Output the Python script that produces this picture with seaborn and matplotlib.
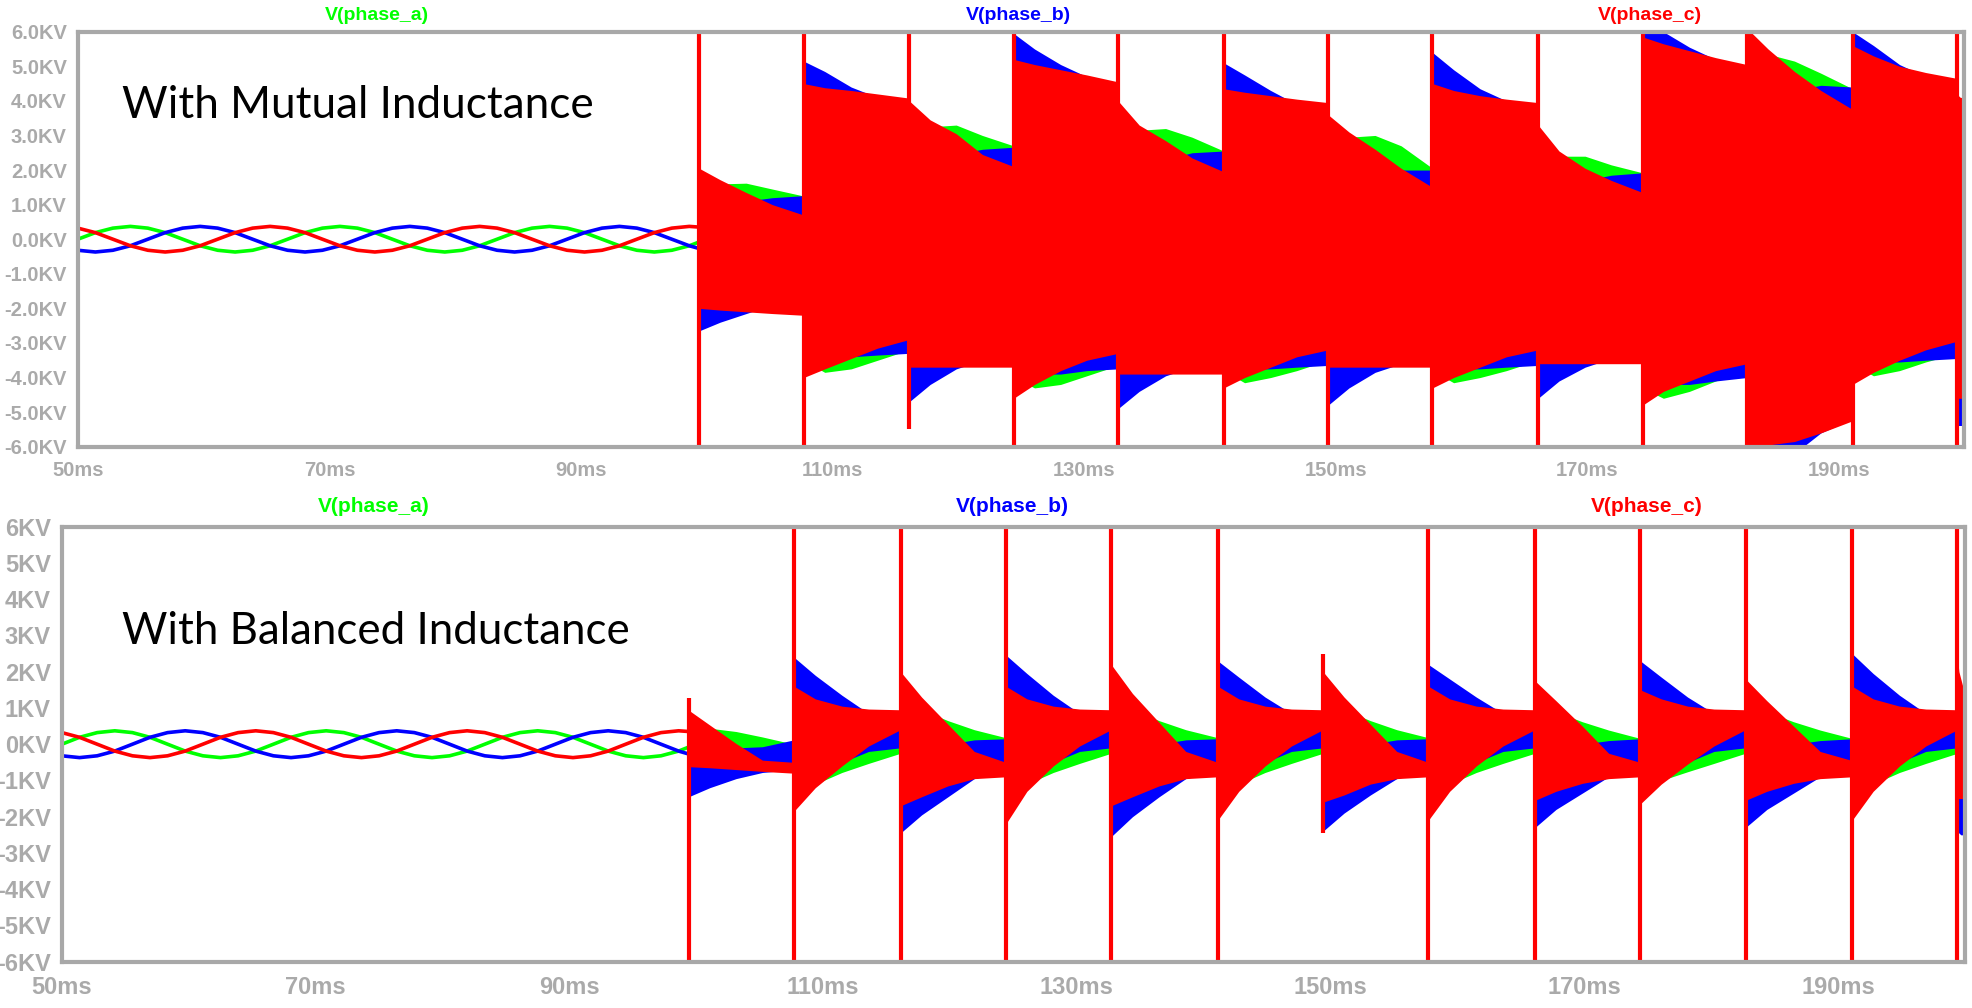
import matplotlib
matplotlib.use("Agg")
import matplotlib.pyplot as plt
import seaborn as sns

# switching instants in ms (the last entry closes the final partial segment)
EVENTS = [99.4, 107.7, 116.1, 124.4, 132.7, 141.1, 149.4, 157.7,
          166.1, 174.4, 182.7, 191.1, 199.4, 200.0]
# sample points inside each switching segment (fraction of segment length)
SEG_FRAC = [0.0, 0.2, 0.45, 0.7, 1.0]

# steady-state 60 Hz phase voltages before the first switching (kV)
PRE_T = [50.0, 51.39, 52.78, 54.17, 55.56, 56.94, 58.33, 59.72, 61.11, 62.5,
         63.89, 65.28, 66.67, 68.06, 69.44, 70.83, 72.22, 73.61, 75.0, 76.39,
         77.78, 79.17, 80.56, 81.94, 83.33, 84.72, 86.11, 87.5, 88.89, 90.28,
         91.67, 93.06, 94.44, 95.83, 97.22, 98.61, 99.4]
PRE_A = [0.0, 0.19, 0.32, 0.37, 0.32, 0.19, 0.0, -0.19, -0.32, -0.37, -0.32, -0.19,
         0.0, 0.19, 0.32, 0.37, 0.32, 0.19, 0.0, -0.19, -0.32, -0.37, -0.32, -0.19,
         0.0, 0.19, 0.32, 0.37, 0.32, 0.19, 0.0, -0.19, -0.32, -0.37, -0.32, -0.19,
         -0.08]
PRE_B = [-0.32, -0.37, -0.32, -0.19, 0.0, 0.19, 0.32, 0.37, 0.32, 0.19, 0.0, -0.19,
         -0.32, -0.37, -0.32, -0.19, 0.0, 0.19, 0.32, 0.37, 0.32, 0.19, 0.0, -0.19,
         -0.32, -0.37, -0.32, -0.19, 0.0, 0.19, 0.32, 0.37, 0.32, 0.19, 0.0, -0.19,
         -0.27]
PRE_C = [0.32, 0.19, 0.0, -0.19, -0.32, -0.37, -0.32, -0.19, 0.0, 0.19, 0.32, 0.37,
         0.32, 0.19, 0.0, -0.19, -0.32, -0.37, -0.32, -0.19, 0.0, 0.19, 0.32, 0.37,
         0.32, 0.19, 0.0, -0.19, -0.32, -0.37, -0.32, -0.19, 0.0, 0.19, 0.32, 0.37,
         0.35]

# ---- top panel (mutual inductance): ringing envelopes per segment, kV ----
TOP_A_HI = [[1.55, 1.6, 1.62, 1.45, 1.25], [3.5, 3.5, 3.5, 3.5, 3.5],
            [3.0, 3.25, 3.3, 3.0, 2.7], [4.0, 4.0, 4.0, 4.0, 4.0],
            [2.9, 3.15, 3.2, 2.95, 2.55], [3.5, 3.5, 3.5, 3.5, 3.5],
            [2.7, 2.95, 3.0, 2.7, 2.05], [3.5, 3.5, 3.5, 3.5, 3.5],
            [2.2, 2.4, 2.4, 2.15, 1.92], [4.5, 4.5, 4.5, 4.5, 4.5],
            [5.0, 5.35, 5.15, 4.8, 4.35], [4.3, 4.3, 4.3, 4.3, 4.3],
            [3.5, 3.5, 3.5, 3.5, 3.5]]
TOP_A_LO = [[-1.5, -1.5, -1.5, -1.5, -1.5], [-3.5, -3.85, -3.75, -3.5, -3.2],
            [-3.3, -3.3, -3.3, -3.3, -3.3], [-4.0, -4.3, -4.2, -3.95, -3.65],
            [-3.5, -3.5, -3.5, -3.5, -3.5], [-3.8, -4.15, -4.0, -3.8, -3.5],
            [-3.3, -3.3, -3.3, -3.3, -3.3], [-3.8, -4.15, -4.0, -3.8, -3.5],
            [-3.2, -3.2, -3.2, -3.2, -3.2], [-4.3, -4.6, -4.4, -4.1, -3.8],
            [-5.0, -5.0, -5.0, -5.0, -5.0], [-3.6, -3.95, -3.8, -3.55, -3.3],
            [-4.0, -4.0, -4.0, -4.0, -4.0]]
TOP_B_HI = [[1.5, 1.2, 1.1, 1.2, 1.26], [5.15, 4.85, 4.4, 4.1, 3.9],
            [2.0, 2.2, 2.45, 2.6, 2.66], [5.95, 5.5, 5.05, 4.7, 4.5],
            [1.9, 2.1, 2.3, 2.5, 2.55], [5.1, 4.75, 4.3, 3.9, 3.7],
            [1.6, 1.75, 1.9, 2.0, 2.0], [5.4, 4.9, 4.35, 4.0, 3.8],
            [1.3, 1.5, 1.7, 1.85, 1.92], [6.3, 6.0, 5.55, 5.2, 5.0],
            [3.8, 4.0, 4.3, 4.45, 4.4], [6.0, 5.6, 5.05, 4.7, 4.5],
            [4.0, 4.0, 4.0, 4.0, 4.0]]
TOP_B_LO = [[-2.65, -2.4, -2.15, -1.9, -1.8], [-3.2, -3.4, -3.4, -3.35, -3.3],
            [-4.7, -4.2, -3.75, -3.5, -3.4], [-3.8, -3.9, -3.9, -3.8, -3.75],
            [-4.9, -4.4, -3.95, -3.7, -3.6], [-3.6, -3.75, -3.75, -3.7, -3.65],
            [-4.8, -4.3, -3.85, -3.6, -3.5], [-3.6, -3.75, -3.75, -3.7, -3.65],
            [-4.6, -4.1, -3.7, -3.45, -3.35], [-4.0, -4.2, -4.2, -4.1, -4.0],
            [-6.5, -6.4, -6.2, -5.6, -5.2], [-3.4, -3.55, -3.55, -3.5, -3.45],
            [-5.4, -5.4, -5.4, -5.4, -5.4]]
TOP_C_HI = [[2.05, 1.72, 1.35, 1.0, 0.7], [4.5, 4.38, 4.3, 4.2, 4.08],
            [4.0, 3.45, 3.05, 2.45, 2.1], [5.2, 5.05, 4.9, 4.75, 4.55],
            [4.0, 3.3, 2.85, 2.35, 1.95], [4.35, 4.25, 4.15, 4.05, 3.95],
            [3.6, 3.1, 2.6, 2.05, 1.5], [4.5, 4.3, 4.15, 4.05, 3.95],
            [3.3, 2.55, 2.05, 1.7, 1.35], [5.85, 5.65, 5.45, 5.25, 5.05],
            [6.1, 5.5, 4.85, 4.3, 3.75], [5.6, 5.3, 5.0, 4.82, 4.65],
            [4.2, 4.15, 4.1, 4.1, 4.1]]
TOP_C_LO = [[-2.0, -2.05, -2.1, -2.15, -2.2], [-4.0, -3.75, -3.45, -3.15, -2.9],
            [-3.7, -3.7, -3.7, -3.7, -3.7], [-4.6, -4.2, -3.8, -3.5, -3.3],
            [-3.9, -3.9, -3.9, -3.9, -3.9], [-4.3, -4.0, -3.7, -3.4, -3.2],
            [-3.7, -3.7, -3.7, -3.7, -3.7], [-4.3, -4.0, -3.7, -3.4, -3.2],
            [-3.6, -3.6, -3.6, -3.6, -3.6], [-4.8, -4.4, -4.1, -3.8, -3.6],
            [-6.2, -5.95, -5.85, -5.6, -5.25], [-4.2, -3.85, -3.5, -3.2, -2.95],
            [-4.6, -4.6, -4.6, -4.6, -4.6]]
TOP_SPIKE_LO = [-6.2, -6.2, -5.5, -6.2, -6.2, -6.2, -6.2, -6.2, -6.2, -6.2, -6.2, -6.2, -6.2]
TOP_SPIKE_HI = [6.2, 6.2, 6.2, 6.2, 6.2, 6.2, 6.2, 6.2, 6.2, 6.2, 6.2, 6.2, 6.2]

# ---- bottom panel (balanced inductance) ----
BOT_A_HI = [[0.3, 0.44, 0.35, 0.2, 0.0], [0.5, 0.6, 0.6, 0.5, 0.35],
            [0.8, 0.95, 0.65, 0.4, 0.18], [0.5, 0.6, 0.6, 0.5, 0.35],
            [0.8, 0.95, 0.65, 0.4, 0.18], [0.5, 0.6, 0.6, 0.5, 0.35],
            [0.8, 0.95, 0.65, 0.4, 0.18], [0.5, 0.6, 0.6, 0.5, 0.35],
            [0.8, 0.9, 0.62, 0.39, 0.16], [0.5, 0.6, 0.6, 0.5, 0.35],
            [0.8, 0.9, 0.62, 0.39, 0.16], [0.5, 0.6, 0.6, 0.5, 0.35],
            [0.3, 0.3, 0.3, 0.3, 0.3]]
BOT_A_LO = [[-0.3, -0.4, -0.4, -0.3, -0.3], [-1.0, -1.1, -0.78, -0.53, -0.25],
            [-0.8, -0.8, -0.6, -0.5, -0.5], [-1.0, -1.1, -0.78, -0.53, -0.25],
            [-0.8, -0.8, -0.6, -0.5, -0.5], [-1.0, -1.1, -0.78, -0.53, -0.25],
            [-0.8, -0.8, -0.6, -0.5, -0.5], [-1.0, -1.1, -0.78, -0.53, -0.25],
            [-0.8, -0.8, -0.6, -0.5, -0.5], [-1.0, -1.0, -0.76, -0.53, -0.25],
            [-0.8, -0.8, -0.6, -0.5, -0.5], [-1.0, -1.1, -0.78, -0.53, -0.25],
            [-0.5, -0.5, -0.5, -0.5, -0.5]]
BOT_B_HI = [[-0.5, -0.3, -0.1, -0.07, 0.12], [2.4, 1.9, 1.35, 0.85, 0.5],
            [-0.6, -0.3, 0.0, 0.12, 0.15], [2.46, 1.95, 1.35, 0.85, 0.5],
            [-0.6, -0.3, 0.0, 0.12, 0.15], [2.3, 1.85, 1.3, 0.85, 0.5],
            [-0.6, -0.3, 0.0, 0.12, 0.15], [2.2, 1.8, 1.3, 0.85, 0.5],
            [-0.5, -0.3, 0.0, 0.1, 0.15], [2.3, 1.85, 1.3, 0.85, 0.5],
            [-0.5, -0.3, 0.0, 0.1, 0.15], [2.5, 1.95, 1.35, 0.85, 0.5],
            [1.0, 1.0, 1.0, 1.0, 1.0]]
BOT_B_LO = [[-1.45, -1.2, -0.95, -0.78, -0.7], [-1.7, -1.05, -0.5, -0.2, -0.1],
            [-2.45, -1.95, -1.45, -0.95, -0.75], [-2.0, -1.1, -0.5, -0.2, -0.1],
            [-2.55, -2.0, -1.45, -0.95, -0.75], [-1.9, -1.1, -0.5, -0.2, -0.1],
            [-2.4, -1.9, -1.4, -0.95, -0.75], [-1.9, -1.1, -0.5, -0.2, -0.1],
            [-2.3, -1.8, -1.35, -0.9, -0.7], [-1.5, -0.95, -0.5, -0.2, -0.1],
            [-2.3, -1.8, -1.35, -0.9, -0.7], [-1.9, -1.1, -0.5, -0.2, -0.1],
            [-2.4, -2.45, -2.5, -2.5, -2.5]]
BOT_C_HI = [[0.94, 0.53, 0.02, -0.44, -0.5], [1.6, 1.25, 1.05, 0.97, 0.95],
            [2.0, 1.3, 0.55, -0.2, -0.5], [1.6, 1.25, 1.05, 0.97, 0.95],
            [2.2, 1.4, 0.6, -0.2, -0.5], [1.6, 1.25, 1.05, 0.97, 0.95],
            [2.0, 1.3, 0.55, -0.2, -0.5], [1.6, 1.25, 1.05, 0.97, 0.95],
            [1.75, 1.2, 0.5, -0.25, -0.5], [1.5, 1.25, 1.05, 0.97, 0.95],
            [1.8, 1.2, 0.5, -0.2, -0.45], [1.6, 1.25, 1.05, 0.97, 0.95],
            [2.4, 2.0, 1.8, 1.6, 1.6]]
BOT_C_LO = [[-0.62, -0.65, -0.7, -0.75, -0.8], [-1.85, -1.2, -0.6, -0.05, 0.4],
            [-1.7, -1.45, -1.15, -0.95, -0.9], [-2.2, -1.3, -0.6, -0.05, 0.4],
            [-1.7, -1.45, -1.15, -0.95, -0.9], [-2.1, -1.3, -0.6, -0.05, 0.4],
            [-1.6, -1.4, -1.1, -0.95, -0.9], [-2.1, -1.3, -0.6, -0.05, 0.4],
            [-1.55, -1.3, -1.08, -0.95, -0.9], [-1.65, -1.1, -0.55, -0.05, 0.4],
            [-1.55, -1.3, -1.08, -0.95, -0.9], [-2.1, -1.3, -0.6, -0.05, 0.4],
            [-1.5, -1.5, -1.5, -1.5, -1.5]]
BOT_SPIKE_LO = [-6.2, -6.2, -6.2, -6.2, -6.2, -6.2, -2.45, -6.2, -6.2, -6.2, -6.2, -6.2, -6.2]
BOT_SPIKE_HI = [1.27, 6.2, 6.2, 6.2, 6.2, 6.2, 2.5, 6.2, 6.2, 6.2, 6.2, 6.2, 6.2]

Y_TICKS = [-6, -5, -4, -3, -2, -1, 0, 1, 2, 3, 4, 5, 6]
X_TICKS = [50, 70, 90, 110, 130, 150, 170, 190]
TRACE_NAMES = ["V(phase_a)", "V(phase_b)", "V(phase_c)"]

GREEN, BLUE, RED = "#00ff00", "#0000ff", "#ff0000"
GRID_GRAY = "#a8a8a8"
LABEL_GRAY = "#aaaaaa"


def seg_times(k):
    t0, t1 = EVENTS[k], EVENTS[k + 1]
    return [t0 + f * (t1 - t0) for f in SEG_FRAC]


def draw_panel(ax, bands, spike_lo, spike_hi):
    for vals, color in zip([PRE_A, PRE_B, PRE_C], [GREEN, BLUE, RED]):
        sns.lineplot(x=PRE_T, y=vals, ax=ax, color=color, lw=2.6,
                     estimator=None, sort=False)
    # ringing bands after each switching event: green, then blue, red on top
    for lo, hi, color in bands:
        for k in range(len(lo)):
            ax.fill_between(seg_times(k), lo[k], hi[k], color=color, lw=0)
    ax.vlines(EVENTS[:-1], spike_lo, spike_hi, color=RED, lw=3.0)

    ax.set_xlim(50, 200)
    ax.set_ylim(-6, 6)
    ax.set_xticks(X_TICKS)
    ax.set_xticklabels([f"{x}ms" for x in X_TICKS])
    ax.set_yticks(Y_TICKS)
    for side in ["left", "right", "top", "bottom"]:
        ax.spines[side].set_visible(True)
        ax.spines[side].set_color(GRID_GRAY)
        ax.spines[side].set_linewidth(3)
    ax.tick_params(axis="both", direction="out", colors=GRID_GRAY,
                   labelcolor=LABEL_GRAY, width=2.4)
    ax.tick_params(axis="y", length=8, pad=0)
    ax.tick_params(axis="x", length=7, pad=3)
    ax.set_xlabel("")
    ax.set_ylabel("")


sns.set_theme(style="white")
plt.rcParams["font.family"] = ["Liberation Sans", "DejaVu Sans"]

fig = plt.figure(figsize=(19.72, 10.08), dpi=100)

# top: with mutual inductance
ax1 = fig.add_axes([77.9 / 1972, 1 - 446.7 / 1008, (1964.5 - 77.9) / 1972, 415 / 1008])
draw_panel(ax1, [(TOP_A_LO, TOP_A_HI, GREEN), (TOP_B_LO, TOP_B_HI, BLUE),
                 (TOP_C_LO, TOP_C_HI, RED)], TOP_SPIKE_LO, TOP_SPIKE_HI)
ax1.set_yticklabels([f"{y:.1f}KV" for y in Y_TICKS])
for lab in ax1.get_xticklabels() + ax1.get_yticklabels():
    lab.set_fontsize(14.5)
    lab.set_fontweight("bold")

# bottom: with balanced inductance
ax2 = fig.add_axes([61.9 / 1972, 1 - 961.7 / 1008, (1965 - 61.9) / 1972, 435 / 1008])
draw_panel(ax2, [(BOT_A_LO, BOT_A_HI, GREEN), (BOT_B_LO, BOT_B_HI, BLUE),
                 (BOT_C_LO, BOT_C_HI, RED)], BOT_SPIKE_LO, BOT_SPIKE_HI)
ax2.set_yticklabels([f"{y}KV" for y in Y_TICKS])
for lab in ax2.get_xticklabels() + ax2.get_yticklabels():
    lab.set_fontsize(17)
    lab.set_fontweight("bold")
    lab.set_family(["Liberation Sans Narrow", "Liberation Sans"])

# trace names above each pane
for name, color, x in zip(TRACE_NAMES, [GREEN, BLUE, RED], [377, 1018, 1650]):
    fig.text(x / 1972, 1 - 15 / 1008, name, color=color, fontsize=14,
             fontweight="bold", ha="center", va="center")
for name, color, x in zip(TRACE_NAMES, [GREEN, BLUE, RED], [374, 1012, 1647]):
    fig.text(x / 1972, 1 - 507 / 1008, name, color=color, fontsize=15,
             fontweight="bold", ha="center", va="center",
             family=["Liberation Sans Narrow", "Liberation Sans"])

fig.text(122 / 1972, 1 - 118 / 1008, "With Mutual Inductance", fontsize=31.8,
         family=["Lato", "DejaVu Sans"], color="black", va="baseline")
fig.text(122 / 1972, 1 - 644 / 1008, "With Balanced Inductance", fontsize=31.6,
         family=["Lato", "DejaVu Sans"], color="black", va="baseline")

fig.savefig("out.png", dpi=100, facecolor="white")
